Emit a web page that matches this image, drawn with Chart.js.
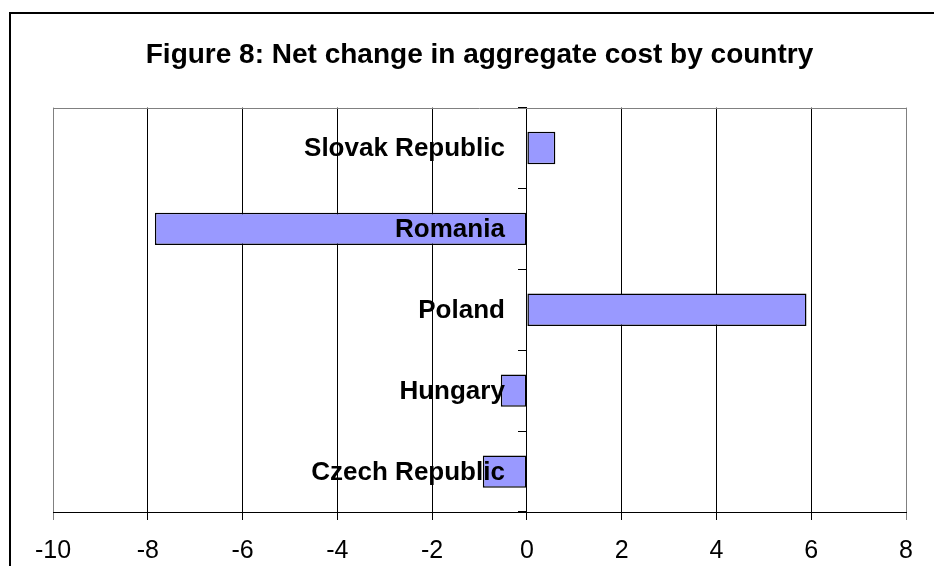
<!DOCTYPE html>
<html>
<head>
<meta charset="utf-8">
<script src="https://cdn.jsdelivr.net/npm/chart.js@4"></script>
<style>
  body { margin: 0; background: #fff; }
</style>
</head>
<body>
<canvas id="canvas" width="934" height="566"></canvas>
<script>
let countries = ['Slovak Republic', 'Romania', 'Poland', 'Hungary', 'Czech Republic'];
let netChange = [0.6, -7.85, 5.9, -0.55, -0.93];
let xTicks = [-10, -8, -6, -4, -2, 0, 2, 4, 6, 8];

let canvas = document.getElementById('canvas');
let fontFam = '"Liberation Sans", Arial, sans-serif';

// outer frame + grey plot border on top
let framePlugin = {
  id: 'frame',
  beforeDraw(chart) {
    let ctx = chart.ctx;
    ctx.save();
    ctx.fillStyle = '#fff';
    ctx.fillRect(0, 0, chart.width, chart.height);
    ctx.strokeStyle = '#000';
    ctx.lineWidth = 2;
    ctx.strokeRect(10, 13, 1000, 1000);
    ctx.restore();
  },
  beforeDatasetsDraw(chart) {
    let a = chart.chartArea;
    let ctx = chart.ctx;
    ctx.save();
    ctx.strokeStyle = '#808080';
    ctx.lineWidth = 1;
    ctx.beginPath();
    ctx.moveTo(a.left, Math.round(a.top) + 0.5);
    ctx.lineTo(a.right, Math.round(a.top) + 0.5);
    ctx.stroke();
    ctx.restore();
  }
};

// category names sit left of the zero line, over the bars
let labelPlugin = {
  id: 'catLabels',
  afterDatasetsDraw(chart) {
    let ctx = chart.ctx;
    let xs = chart.scales.x;
    let ys = chart.scales.y;
    let x0 = xs.getPixelForValue(0);
    ctx.save();
    ctx.font = 'bold 26px ' + fontFam;
    ctx.fillStyle = '#000';
    ctx.textAlign = 'right';
    ctx.textBaseline = 'middle';
    countries.forEach((name, i) => {
      ctx.fillText(name, x0 - 22, ys.getPixelForValue(i) + 1);
    });
    ctx.restore();
  }
};

new Chart(canvas, {
  type: 'bar',
  data: {
    labels: countries,
    datasets: [{
      data: netChange,
      backgroundColor: '#9999ff',
      borderColor: '#000',
      borderWidth: 1.5,
      borderSkipped: false,
      barPercentage: 0.4,
      categoryPercentage: 1.0
    }]
  },
  options: {
    indexAxis: 'y',
    responsive: false,
    animation: false,
    devicePixelRatio: 1,
    layout: { padding: { left: 53, right: 28, top: 0, bottom: -16 } },
    plugins: {
      legend: { display: false },
      tooltip: { enabled: false },
      title: {
        display: true,
        text: 'Figure 8: Net change in aggregate cost by country',
        color: '#000',
        font: { family: fontFam, size: 28, weight: 'bold' },
        padding: { top: 38, bottom: 36 }
      }
    },
    scales: {
      x: {
        min: -10,
        max: 8,
        afterBuildTicks(scale) {
          scale.ticks = xTicks.map(v => ({ value: v }));
        },
        grid: {
          color: c => (c.tick && (c.tick.value === -10 || c.tick.value === 8)) ? '#808080' : '#000',
          lineWidth: 1,
          tickLength: 8
        },
        border: { display: true, color: '#000', width: 1 },
        ticks: {
          color: '#000',
          padding: 16,
          font: { family: fontFam, size: 25 }
        }
      },
      y: {
        position: { x: 0 },
        z: 1,
        grid: {
          offset: true,
          drawOnChartArea: false,
          drawTicks: true,
          tickLength: 8,
          color: '#000'
        },
        border: { display: true, color: '#000', width: 1 },
        ticks: { display: false }
      }
    }
  },
  plugins: [framePlugin, labelPlugin]
});
</script>
</body>
</html>
